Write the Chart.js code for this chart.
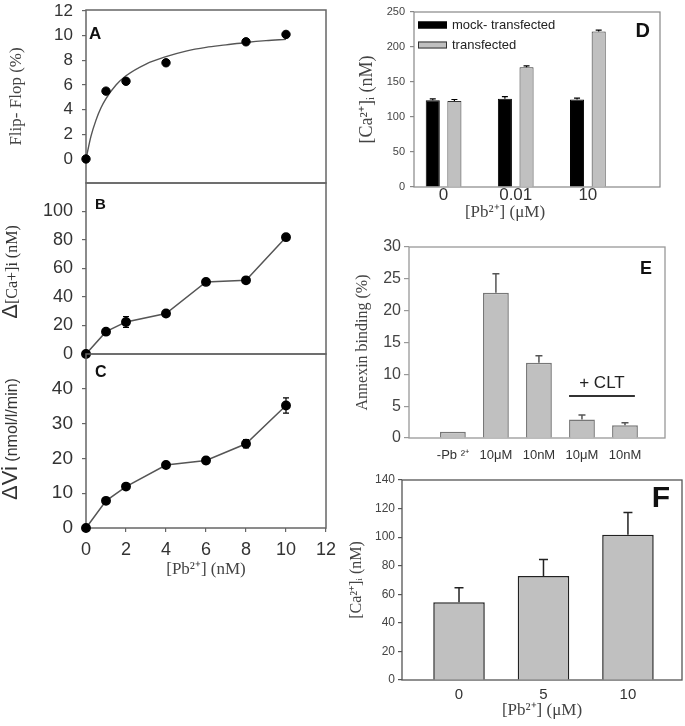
<!DOCTYPE html>
<html>
<head>
<meta charset="utf-8">
<script src="https://cdn.jsdelivr.net/npm/chart.js@4.4.1/dist/chart.umd.min.js"></script>
<style>
body { margin: 0; background: #fff; }
#wrap { position: relative; width: 685px; height: 726px; overflow: hidden; }
canvas { position: absolute; }
.yt { position: absolute; transform: translate(-50%, -50%) rotate(-90deg); white-space: nowrap; color: #333; }
</style>
</head>
<body>
<div id="wrap">
  <canvas id="cA" width="340" height="190" style="left:0;top:0"></canvas>
  <canvas id="cB" width="340" height="190" style="left:0;top:175px"></canvas>
  <canvas id="cC" width="340" height="240" style="left:0;top:344px"></canvas>
  <canvas id="cD" width="335" height="221" style="left:350px;top:0"></canvas>
  <canvas id="cE" width="335" height="232" style="left:350px;top:232px"></canvas>
  <canvas id="cF" width="340" height="256" style="left:345px;top:470px"></canvas>
  <div class="yt" style="left:10px;top:272px"><span style="font:22px 'Liberation Sans'">Δ</span><span style="font:16px 'Liberation Serif'">[Ca+]i (nM)</span></div>
  <div class="yt" style="left:10px;top:439px"><span style="font:22px 'Liberation Sans'">ΔVi</span><span style="font:16px 'Liberation Sans'"> (nmol/l/min)</span></div>
</div>
<script>
// panel A: flip-flop vs [Pb2+] (nM)
const aX = [0, 1, 2, 4, 8, 10];
const aY = [0, 5.5, 6.3, 7.8, 9.5, 10.1];
const aFitX = [0, 0.25, 0.5, 0.75, 1, 1.5, 2, 3, 4, 5, 6, 7, 8, 9, 10];
const aFitY = [0, 1.85, 3.15, 4.15, 4.9, 6.0, 6.75, 7.7, 8.3, 8.75, 9.05, 9.25, 9.45, 9.6, 9.7];
const aTicks = [0, 2, 4, 6, 8, 10, 12];

// panel B
const bX = [0, 1, 2, 4, 6, 8, 10];
const bY = [0, 15.7, 22.5, 28.4, 50.6, 51.7, 82];
const bErr = [0, 1.2, 3.8, 1, 1, 1, 0.8];
const bTicks = [0, 20, 40, 60, 80, 100];

// panel C
const cX = [0, 1, 2, 4, 6, 8, 10];
const cY = [0, 7.8, 11.9, 18.1, 19.4, 24.2, 35.2];
const cErr = [0, 0.6, 0.6, 0.6, 0.9, 1.2, 2.2];
const cTicks = [0, 10, 20, 30, 40];
const nmTicks = [0, 2, 4, 6, 8, 10, 12];

// panel D
const dCats = ['0', '0.01', '10'];
const dMock = [124, 126, 125];
const dMockErr = [2, 3, 2];
const dTrans = [123, 171, 222];
const dTransErr = [2, 2, 2];
const dTicks = [0, 50, 100, 150, 200, 250];

// panel E
const eCats = ['-Pb ²⁺', '10μM', '10nM', '10μM', '10nM'];
const eY = [1, 22.8, 11.8, 2.9, 2.0];
const eErr = [0, 3, 1.1, 0.7, 0.4];
const eTicks = [0, 5, 10, 15, 20, 25, 30];

// panel F
const fCats = ['0', '5', '10'];
const fY = [54.5, 72.8, 101.7];
const fErr = [10, 11.5, 15.5];
const fTicks = [0, 20, 40, 60, 80, 100, 120, 140];

const SERIF = "'Liberation Serif', 'Times New Roman', serif";
Chart.defaults.animation = false;
Chart.defaults.responsive = false;
Chart.defaults.devicePixelRatio = 1;
Chart.defaults.font.family = "'Liberation Sans', Arial, sans-serif";
Chart.defaults.color = '#333';
Chart.defaults.layout.autoPadding = false;
Chart.defaults.plugins.legend.display = false;
Chart.defaults.plugins.tooltip.enabled = false;

const frame = {
  id: 'frame',
  beforeDatasetsDraw(chart, args, o) {
    const a = chart.chartArea, ctx = chart.ctx;
    ctx.save();
    ctx.strokeStyle = o.color || '#666';
    ctx.lineWidth = o.width || 1.5;
    ctx.strokeRect(a.left, a.top, a.right - a.left, a.bottom - a.top);
    ctx.restore();
  }
};

const letter = {
  id: 'letter',
  afterDraw(chart, args, o) {
    if (!o.text) return;
    const a = chart.chartArea, ctx = chart.ctx;
    ctx.save();
    ctx.font = o.font;
    ctx.fillStyle = '#111';
    ctx.textBaseline = 'alphabetic';
    ctx.textAlign = o.right ? 'right' : 'left';
    ctx.fillText(o.text, o.right ? a.right - o.dx : a.left + o.dx, a.top + o.dy);
    ctx.restore();
  }
};

const errorBars = {
  id: 'errorBars',
  afterDatasetsDraw(chart) {
    const ctx = chart.ctx;
    chart.data.datasets.forEach((ds, i) => {
      if (!ds.errors) return;
      const meta = chart.getDatasetMeta(i);
      const ys = chart.scales[meta.yAxisID];
      ctx.save();
      ctx.strokeStyle = ds.errColor || '#000';
      ctx.lineWidth = ds.errWidth || 1.2;
      meta.data.forEach((el, j) => {
        const e = ds.errors[j];
        if (!e) return;
        const v = ds.data[j].y;
        const hi = ys.getPixelForValue(v + e);
        const lo = ds.upOnly ? el.y : ys.getPixelForValue(v - e);
        const c = ds.cap || 3;
        ctx.beginPath();
        ctx.moveTo(el.x, lo); ctx.lineTo(el.x, hi);
        ctx.moveTo(el.x - c, hi); ctx.lineTo(el.x + c, hi);
        if (!ds.upOnly) { ctx.moveTo(el.x - c, lo); ctx.lineTo(el.x + c, lo); }
        ctx.stroke();
      });
      ctx.restore();
    });
  }
};

const boxLegend = {
  id: 'boxLegend',
  afterDraw(chart, args, o) {
    if (!o.show) return;
    const a = chart.chartArea, ctx = chart.ctx;
    ctx.save();
    ctx.font = o.font;
    ctx.textBaseline = 'middle';
    chart.data.datasets.forEach((ds, i) => {
      const x = a.left + o.dx, y = a.top + o.dy + i * o.gap;
      ctx.fillStyle = ds.backgroundColor;
      ctx.fillRect(x, y - 3.5, 29, 7);
      ctx.strokeStyle = ds.borderColor;
      ctx.lineWidth = 1;
      ctx.strokeRect(x + 0.5, y - 3, 28, 6);
      ctx.fillStyle = '#222';
      ctx.fillText(ds.label, x + 34, y);
    });
    ctx.restore();
  }
};

const bracket = {
  id: 'bracket',
  afterDraw(chart, args, o) {
    if (!o.text) return;
    const xs = chart.scales.x, ys = chart.scales.y, ctx = chart.ctx;
    ctx.save();
    ctx.strokeStyle = '#333';
    ctx.lineWidth = 2;
    const y = ys.getPixelForValue(o.y);
    ctx.beginPath();
    ctx.moveTo(xs.getPixelForValue(o.from), y);
    ctx.lineTo(xs.getPixelForValue(o.to), y);
    ctx.stroke();
    ctx.font = o.font;
    ctx.fillStyle = '#222';
    ctx.textAlign = 'center';
    ctx.textBaseline = 'middle';
    ctx.fillText(o.text, xs.getPixelForValue((o.from + o.to) / 2), ys.getPixelForValue(o.ty));
    ctx.restore();
  }
};

Chart.register(frame, letter, errorBars, boxLegend, bracket);

const pts = (xs, ys) => xs.map((x, i) => ({ x, y: ys[i] }));
const idx = arr => arr.map((_, i) => i);
const fixed = vals => s => { s.ticks = vals.map(v => ({ value: v })); };
const fixW = w => s => { s.width = w; s.paddingTop = 0; s.paddingBottom = 0; };
const fixH = h => s => { s.height = h; s.paddingLeft = 0; s.paddingRight = 0; };

function yScale(min, max, ticks, w, o = {}) {
  return {
    min, max,
    afterBuildTicks: fixed(ticks),
    afterFit: fixW(w),
    border: { display: false },
    grid: { drawOnChartArea: false, tickLength: o.tl ?? 4, color: o.gc || '#666', lineWidth: 1.2 },
    ticks: { font: { size: o.fs || 17, lineHeight: 1 }, padding: o.pad ?? 9, color: o.tc || '#333' },
    title: o.title
      ? { display: true, text: o.title, color: '#444', font: { family: SERIF, size: o.tfs || 17 }, padding: { top: o.tpad || 0, bottom: 0 } }
      : { display: false }
  };
}

const hidden = { type: 'linear', min: 0, max: 12, display: false };
const dot = { pointRadius: 4.2, pointBackgroundColor: '#000', pointBorderColor: '#000', clip: false };

// A
new Chart(document.getElementById('cA'), {
  type: 'line',
  data: {
    datasets: [
      { data: pts(aX, aY), showLine: false, ...dot },
      { data: pts(aFitX, aFitY), borderColor: '#555', borderWidth: 1.4, pointRadius: 0, cubicInterpolationMode: 'monotone', clip: false }
    ]
  },
  options: {
    layout: { padding: { top: 10, right: 14, bottom: 7, left: 0 } },
    scales: { x: hidden, y: yScale(-1.95, 12.08, aTicks, 86, { title: 'Flip- Flop (%)', tpad: 6.8 }) },
    plugins: { letter: { text: 'A', font: "bold 17px 'Liberation Sans'", dx: 3, dy: 29 } }
  }
});

// B
new Chart(document.getElementById('cB'), {
  type: 'line',
  data: {
    datasets: [{ data: pts(bX, bY), errors: bErr, cap: 3, borderColor: '#555', borderWidth: 1.5, ...dot }]
  },
  options: {
    layout: { padding: { top: 8, right: 14, bottom: 11, left: 0 } },
    scales: { x: hidden, y: yScale(0, 120, bTicks, 86, { fs: 18 }) },
    plugins: { letter: { text: 'B', font: "bold 15px 'Liberation Sans'", dx: 9, dy: 26 } }
  }
});

// C
new Chart(document.getElementById('cC'), {
  type: 'line',
  data: {
    datasets: [{ data: pts(cX, cY), errors: cErr, cap: 3, borderColor: '#555', borderWidth: 1.5, ...dot }]
  },
  options: {
    layout: { padding: { top: 10, right: 14, bottom: 0, left: 0 } },
    scales: {
      x: {
        type: 'linear', min: 0, max: 12,
        afterBuildTicks: fixed(nmTicks),
        afterFit: fixH(56),
        border: { display: false },
        grid: { drawOnChartArea: false, tickLength: 4, color: '#666', lineWidth: 1.2 },
        ticks: { font: { size: 18, lineHeight: 1 }, padding: 9 },
        title: { display: true, text: '[Pb²⁺] (nM)', color: '#444', font: { family: SERIF, size: 17 }, padding: { top: 0, bottom: 3.8 } }
      },
      y: yScale(0, 50, cTicks, 86, { fs: 19 })
    },
    plugins: { letter: { text: 'C', font: "bold 16px 'Liberation Sans'", dx: 9, dy: 23 } }
  }
});

// D
new Chart(document.getElementById('cD'), {
  type: 'bar',
  data: {
    datasets: [
      { label: 'mock- transfected', data: pts(idx(dCats), dMock), errors: dMockErr, upOnly: true, cap: 3,
        backgroundColor: '#000', borderColor: '#000', borderWidth: 1 },
      { label: 'transfected', data: pts(idx(dCats), dTrans), errors: dTransErr, upOnly: true, cap: 3,
        backgroundColor: '#c0c0c0', borderColor: '#333', borderWidth: 1 }
    ]
  },
  options: {
    categoryPercentage: 0.6,
    barPercentage: 0.65,
    layout: { padding: { top: 12, right: 25, bottom: 0, left: 0 } },
    scales: {
      x: {
        type: 'linear', min: -0.41, max: 3.0, offset: false,
        afterBuildTicks: fixed(idx(dCats)),
        afterFit: fixH(17),
        border: { display: false },
        grid: { display: false, drawTicks: false },
        ticks: { font: { size: 17, lineHeight: 1 }, padding: 0, callback: v => dCats[v] ?? '' }
      },
      y: yScale(0, 250, dTicks, 64, { fs: 11, pad: 5, gc: '#888', tc: '#444', title: '[Ca²⁺]ᵢ (nM)', tfs: 18, tpad: 6 })
    },
    plugins: {
      title: { display: true, position: 'bottom', text: '[Pb²⁺] (μM)', color: '#444', font: { family: SERIF, size: 17, weight: 'normal', lineHeight: 1 }, padding: 0 },
      frame: { color: '#888', width: 1.2 },
      boxLegend: { show: true, font: "13px 'Liberation Sans'", dx: 4, dy: 13, gap: 20 },
      letter: { text: 'D', font: "bold 20px 'Liberation Sans'", right: true, dx: 10, dy: 25 }
    }
  }
});

// E
new Chart(document.getElementById('cE'), {
  type: 'bar',
  data: {
    datasets: [{ data: pts(idx(eCats), eY), errors: eErr, upOnly: true, cap: 3.5, errColor: '#555', errWidth: 1.5,
      backgroundColor: '#c0c0c0', borderColor: '#777', borderWidth: 1.5 }]
  },
  options: {
    categoryPercentage: 0.6,
    barPercentage: 1,
    layout: { padding: { top: 15, right: 20, bottom: 0, left: 0 } },
    scales: {
      x: {
        type: 'linear', min: -1.02, max: 4.93, offset: false,
        afterBuildTicks: fixed(idx(eCats)),
        afterFit: fixH(26),
        border: { display: false },
        grid: { display: false, drawTicks: false },
        ticks: { font: { size: 13, lineHeight: 1 }, padding: 10.5, callback: v => eCats[v] ?? '' }
      },
      y: yScale(0, 30, eTicks, 59, { fs: 16, tl: 5, pad: 3, gc: '#999', tc: '#444', title: 'Annexin binding (%)', tfs: 16, tpad: 3.4 })
    },
    plugins: {
      frame: { color: '#999', width: 1.3 },
      bracket: { text: '+ CLT', font: "17px 'Liberation Sans'", from: 2.7, to: 4.23, y: 6.6, ty: 8.6 },
      letter: { text: 'E', font: "bold 18px 'Liberation Sans'", right: true, dx: 13, dy: 27 }
    }
  }
});

// F
new Chart(document.getElementById('cF'), {
  type: 'bar',
  data: {
    datasets: [{ data: pts(idx(fCats), fY), errors: fErr, upOnly: true, cap: 4.5, errColor: '#222', errWidth: 1.5,
      backgroundColor: '#c0c0c0', borderColor: '#222', borderWidth: 1.5 }]
  },
  options: {
    categoryPercentage: 0.61,
    barPercentage: 1,
    layout: { padding: { top: 10, right: 3, bottom: 0, left: 0 } },
    scales: {
      x: {
        type: 'linear', min: -0.675, max: 2.64, offset: false,
        afterBuildTicks: fixed(idx(fCats)),
        afterFit: fixH(46),
        border: { display: false },
        grid: { display: false, drawTicks: false },
        ticks: { font: { size: 15, lineHeight: 1 }, padding: 7.5, callback: v => fCats[v] ?? '' },
        title: { display: true, text: '[Pb²⁺] (μM)', color: '#444', font: { family: SERIF, size: 17 }, padding: { top: 0, bottom: 4.8 } }
      },
      y: yScale(0, 140, fTicks, 57, { fs: 12, pad: 3, gc: '#555', tc: '#444', title: '[Ca²⁺]ᵢ (nM)', tfs: 16, tpad: 2.4 })
    },
    plugins: {
      frame: { color: '#555', width: 1.3 },
      letter: { text: 'F', font: "bold 30px 'Liberation Sans'", right: true, dx: 12, dy: 27 }
    }
  }
});
</script>
</body>
</html>
